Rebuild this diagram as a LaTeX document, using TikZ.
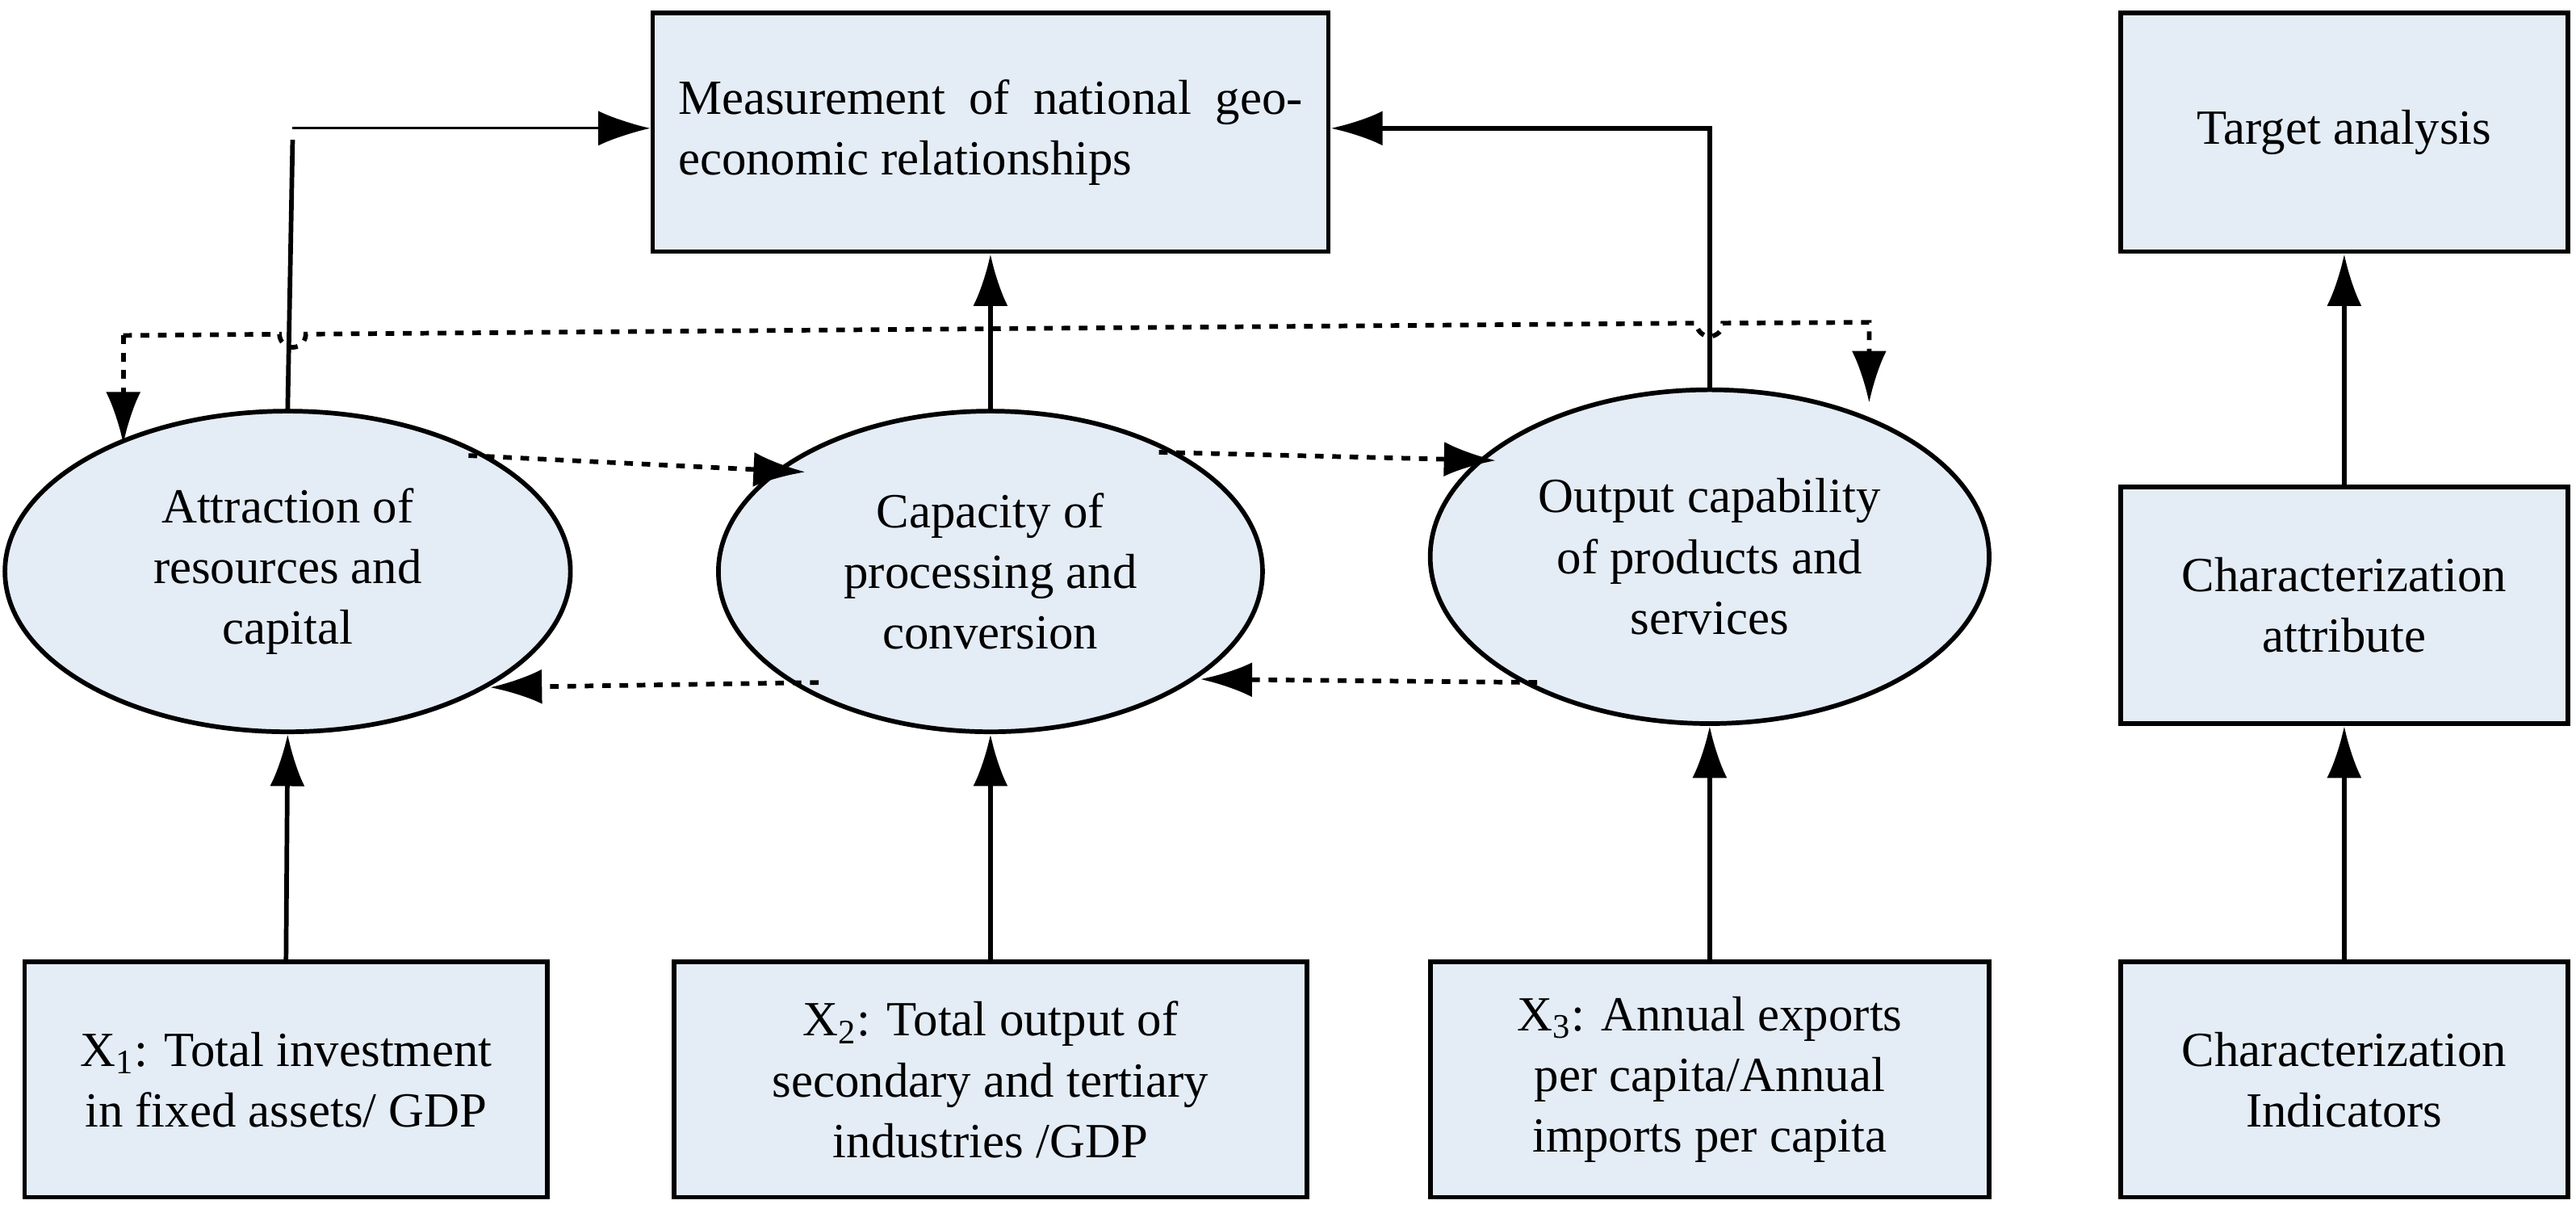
\documentclass[tikz,border=0pt]{standalone}
\usepackage{fontspec}
\setmainfont{Liberation Serif}
\usetikzlibrary{arrows.meta,shapes.geometric}
\definecolor{fillb}{HTML}{E4ECF6}
\begin{document}
\begin{tikzpicture}[x=0.02cm,y=-0.02cm,
 box/.style={draw,line width=1.6pt,fill=fillb,font=\fontsize{17}{21}\selectfont,align=center,inner sep=0pt},
 ell/.style={draw,line width=1.6pt,fill=fillb,ellipse,font=\fontsize{17}{21}\selectfont,align=center,inner sep=0pt},
 arr/.style={line width=1.6pt,-{Latex[length=18pt,width=12pt]}},
 darr/.style={line width=1.6pt,dash pattern=on 3pt off 3pt,-{Latex[length=18pt,width=12pt]}},
 ]
\useasboundingbox (0,0) rectangle (1567,740);
\node[box,minimum width=411*0.02cm,minimum height=145*0.02cm] (top) at (602.5,80.5) {};
\node[font=\fontsize{17}{21}\selectfont,text width=380*0.02cm,align=justify] at (602.5,80.5) {Measurement of national geo-economic relationships};
\node[box,minimum width=272*0.02cm,minimum height=145*0.02cm] (ta) at (1426,80.5) {Target analysis};
\node[box,minimum width=272*0.02cm,minimum height=144*0.02cm] (ca) at (1426,368) {Characterization\\attribute};
\node[box,minimum width=272*0.02cm,minimum height=143*0.02cm] (ci) at (1426,656.5) {Characterization\\Indicators};
\node[ell,minimum width=344*0.02cm,minimum height=195*0.02cm] (e1) at (175,347.5) {Attraction of\\resources and\\capital};
\node[ell,minimum width=331*0.02cm,minimum height=195*0.02cm] (e2) at (602.5,347.5) {Capacity of\\processing and\\conversion};
\node[ell,minimum width=340*0.02cm,minimum height=203*0.02cm] (e3) at (1040,338.5) {Output capability\\of products and\\services};
\node[box,minimum width=318*0.02cm,minimum height=143*0.02cm] (b1) at (174,656.5) {X\textsubscript{1}: Total investment\\in fixed assets/ GDP};
\node[box,minimum width=385*0.02cm,minimum height=143*0.02cm] (b2) at (602.5,656.5) {X\textsubscript{2}: Total output of\\secondary and tertiary\\industries /GDP};
\node[box,minimum width=340*0.02cm,minimum height=143*0.02cm] (b3) at (1040,656.5) {X\textsubscript{3}: Annual exports\\per capita/Annual\\imports per capita};
\draw[arr] (b1.north) -- (e1.south);
\draw[arr] (b2.north) -- (e2.south);
\draw[arr] (b3.north) -- (e3.south);
\draw[arr] (ci.north) -- (ca.south);
\draw[arr] (ca.north) -- (ta.south);
\draw[arr] (e2.north) -- (top.south);
\coordinate (c1) at (178,85);
\coordinate (c1b) at (178,78);
\draw[line width=1.6pt] (e1.north) -- (c1);
\draw[line width=0.8pt,-{Latex[length=18pt,width=12pt]}] (c1b) -- (top.west |- c1b);
\coordinate (c3) at (1040,78);
\draw[arr] (e3.north) -- (c3) -- (top.east |- c3);
% dotted bidirectional top
\coordinate (d1) at (75,270);
\coordinate (d2) at (1137,245);
\draw[darr] (75,204) -- (170,203.2) arc (180:0:8) -- (1032,196.5) arc (180:0:8) -- (1137,196) -- (d2);
\draw[darr] (75,204) -- (d1);
\draw[darr] (285,277) -- (490,287);
\draw[darr] (705,275) -- (910,280);
\draw[darr] (498,415) -- (298,418);
\draw[darr] (935,415) -- (730,413);
\end{tikzpicture}
\end{document}
